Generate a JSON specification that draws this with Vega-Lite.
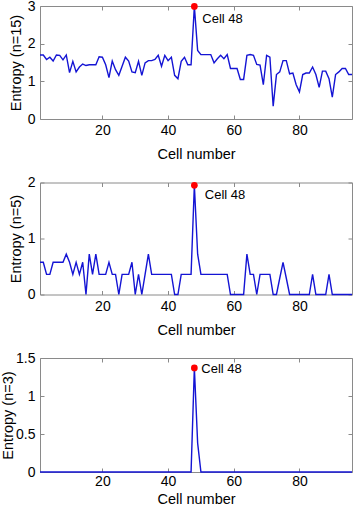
{
  "$schema": "https://vega.github.io/schema/vega-lite/v6.json",
  "padding": {"left": 0, "top": -2, "right": 0, "bottom": 0},
  "background": "white",
  "config": {
    "font": "Liberation Sans",
    "view": {"stroke": "#8a8a8a", "strokeWidth": 1},
    "axis": {
      "grid": false,
      "domain": false,
      "tickColor": "#8a8a8a",
      "tickSize": -4,
      "labelFontSize": 14,
      "labelColor": "#000000",
      "labelFlush": false,
      "format": ".1~f",
      "titleFontSize": 14.5,
      "titleFontWeight": "normal",
      "titleColor": "#000000"
    },
    "axisX": {"labelPadding": 8.8, "titlePadding": 10},
    "axisY": {"labelPadding": 9, "titlePadding": 3.5}
  },
  "datasets": {
    "p1": [
      {"cell": 1, "entropy": 1.70}, {"cell": 2, "entropy": 1.70}, {"cell": 3, "entropy": 1.58}, {"cell": 4, "entropy": 1.64},
      {"cell": 5, "entropy": 1.54}, {"cell": 6, "entropy": 1.70}, {"cell": 7, "entropy": 1.69}, {"cell": 8, "entropy": 1.57},
      {"cell": 9, "entropy": 1.70}, {"cell": 10, "entropy": 1.23}, {"cell": 11, "entropy": 1.53}, {"cell": 12, "entropy": 1.25},
      {"cell": 13, "entropy": 1.38}, {"cell": 14, "entropy": 1.46}, {"cell": 15, "entropy": 1.42}, {"cell": 16, "entropy": 1.44},
      {"cell": 17, "entropy": 1.44}, {"cell": 18, "entropy": 1.44}, {"cell": 19, "entropy": 1.65}, {"cell": 20, "entropy": 1.64},
      {"cell": 21, "entropy": 1.44}, {"cell": 22, "entropy": 1.10}, {"cell": 23, "entropy": 1.54}, {"cell": 24, "entropy": 1.31},
      {"cell": 25, "entropy": 1.16}, {"cell": 26, "entropy": 1.40}, {"cell": 27, "entropy": 1.64}, {"cell": 28, "entropy": 1.54},
      {"cell": 29, "entropy": 1.25}, {"cell": 30, "entropy": 1.23}, {"cell": 31, "entropy": 1.53}, {"cell": 32, "entropy": 1.16},
      {"cell": 33, "entropy": 1.49}, {"cell": 34, "entropy": 1.55}, {"cell": 35, "entropy": 1.55}, {"cell": 36, "entropy": 1.58},
      {"cell": 37, "entropy": 1.69}, {"cell": 38, "entropy": 1.40}, {"cell": 39, "entropy": 1.69}, {"cell": 40, "entropy": 1.55},
      {"cell": 41, "entropy": 1.64}, {"cell": 42, "entropy": 1.16}, {"cell": 43, "entropy": 1.07}, {"cell": 44, "entropy": 1.53},
      {"cell": 45, "entropy": 1.64}, {"cell": 46, "entropy": 1.44}, {"cell": 47, "entropy": 1.44}, {"cell": 48, "entropy": 2.99},
      {"cell": 49, "entropy": 1.82}, {"cell": 50, "entropy": 1.71}, {"cell": 51, "entropy": 1.71}, {"cell": 52, "entropy": 1.71},
      {"cell": 53, "entropy": 1.71}, {"cell": 54, "entropy": 1.49}, {"cell": 55, "entropy": 1.60}, {"cell": 56, "entropy": 1.69},
      {"cell": 57, "entropy": 1.60}, {"cell": 58, "entropy": 1.71}, {"cell": 59, "entropy": 1.34}, {"cell": 60, "entropy": 1.34},
      {"cell": 61, "entropy": 1.34}, {"cell": 62, "entropy": 1.05}, {"cell": 63, "entropy": 1.05}, {"cell": 64, "entropy": 1.69},
      {"cell": 65, "entropy": 1.71}, {"cell": 66, "entropy": 1.69}, {"cell": 67, "entropy": 1.45}, {"cell": 68, "entropy": 1.43},
      {"cell": 69, "entropy": 0.91}, {"cell": 70, "entropy": 1.69}, {"cell": 71, "entropy": 1.64}, {"cell": 72, "entropy": 0.34},
      {"cell": 73, "entropy": 1.18}, {"cell": 74, "entropy": 1.25}, {"cell": 75, "entropy": 1.55}, {"cell": 76, "entropy": 1.55},
      {"cell": 77, "entropy": 1.20}, {"cell": 78, "entropy": 1.22}, {"cell": 79, "entropy": 0.91}, {"cell": 80, "entropy": 0.72},
      {"cell": 81, "entropy": 1.18}, {"cell": 82, "entropy": 1.22}, {"cell": 83, "entropy": 1.22}, {"cell": 84, "entropy": 1.38},
      {"cell": 85, "entropy": 1.18}, {"cell": 86, "entropy": 0.84}, {"cell": 87, "entropy": 1.27}, {"cell": 88, "entropy": 1.27},
      {"cell": 89, "entropy": 1.07}, {"cell": 90, "entropy": 0.58}, {"cell": 91, "entropy": 1.18}, {"cell": 92, "entropy": 1.25},
      {"cell": 93, "entropy": 1.34}, {"cell": 94, "entropy": 1.34}, {"cell": 95, "entropy": 1.18}, {"cell": 96, "entropy": 1.18}
    ],
    "p2": [
      {"cell": 1, "entropy": 0.575}, {"cell": 2, "entropy": 0.575}, {"cell": 3, "entropy": 0.36}, {"cell": 4, "entropy": 0.36},
      {"cell": 5, "entropy": 0.575}, {"cell": 6, "entropy": 0.575}, {"cell": 7, "entropy": 0.575}, {"cell": 8, "entropy": 0.575},
      {"cell": 9, "entropy": 0.72}, {"cell": 10, "entropy": 0.575}, {"cell": 11, "entropy": 0.36}, {"cell": 12, "entropy": 0.575},
      {"cell": 13, "entropy": 0.36}, {"cell": 14, "entropy": 0.575}, {"cell": 15, "entropy": 0}, {"cell": 16, "entropy": 0.72},
      {"cell": 17, "entropy": 0.36}, {"cell": 18, "entropy": 0.72}, {"cell": 19, "entropy": 0.36}, {"cell": 20, "entropy": 0.36},
      {"cell": 21, "entropy": 0.36}, {"cell": 22, "entropy": 0.575}, {"cell": 23, "entropy": 0.36}, {"cell": 24, "entropy": 0.36},
      {"cell": 25, "entropy": 0}, {"cell": 26, "entropy": 0.36}, {"cell": 27, "entropy": 0.36}, {"cell": 28, "entropy": 0.36},
      {"cell": 29, "entropy": 0.575}, {"cell": 30, "entropy": 0}, {"cell": 31, "entropy": 0.36}, {"cell": 32, "entropy": 0},
      {"cell": 33, "entropy": 0.36}, {"cell": 34, "entropy": 0.72}, {"cell": 35, "entropy": 0.36}, {"cell": 36, "entropy": 0.36},
      {"cell": 37, "entropy": 0.36}, {"cell": 38, "entropy": 0.36}, {"cell": 39, "entropy": 0.36}, {"cell": 40, "entropy": 0.36},
      {"cell": 41, "entropy": 0.36}, {"cell": 42, "entropy": 0}, {"cell": 43, "entropy": 0}, {"cell": 44, "entropy": 0.36},
      {"cell": 45, "entropy": 0.36}, {"cell": 46, "entropy": 0.36}, {"cell": 47, "entropy": 0.36}, {"cell": 48, "entropy": 1.95},
      {"cell": 49, "entropy": 0.72}, {"cell": 50, "entropy": 0.36}, {"cell": 51, "entropy": 0.36}, {"cell": 52, "entropy": 0.36},
      {"cell": 53, "entropy": 0.36}, {"cell": 54, "entropy": 0.36}, {"cell": 55, "entropy": 0.36}, {"cell": 56, "entropy": 0.36},
      {"cell": 57, "entropy": 0.36}, {"cell": 58, "entropy": 0.36}, {"cell": 59, "entropy": 0}, {"cell": 60, "entropy": 0},
      {"cell": 61, "entropy": 0}, {"cell": 62, "entropy": 0}, {"cell": 63, "entropy": 0}, {"cell": 64, "entropy": 0.72},
      {"cell": 65, "entropy": 0.36}, {"cell": 66, "entropy": 0.36}, {"cell": 67, "entropy": 0}, {"cell": 68, "entropy": 0.36},
      {"cell": 69, "entropy": 0.36}, {"cell": 70, "entropy": 0.36}, {"cell": 71, "entropy": 0.36}, {"cell": 72, "entropy": 0},
      {"cell": 73, "entropy": 0}, {"cell": 74, "entropy": 0.29}, {"cell": 75, "entropy": 0.575}, {"cell": 76, "entropy": 0.29},
      {"cell": 77, "entropy": 0}, {"cell": 78, "entropy": 0}, {"cell": 79, "entropy": 0}, {"cell": 80, "entropy": 0},
      {"cell": 81, "entropy": 0}, {"cell": 82, "entropy": 0}, {"cell": 83, "entropy": 0}, {"cell": 84, "entropy": 0.36},
      {"cell": 85, "entropy": 0}, {"cell": 86, "entropy": 0}, {"cell": 87, "entropy": 0}, {"cell": 88, "entropy": 0},
      {"cell": 89, "entropy": 0.36}, {"cell": 90, "entropy": 0}, {"cell": 91, "entropy": 0}, {"cell": 92, "entropy": 0},
      {"cell": 93, "entropy": 0}, {"cell": 94, "entropy": 0}, {"cell": 95, "entropy": 0}, {"cell": 96, "entropy": 0}
    ],
    "p3": [
      {"cell": 1, "entropy": 0}, {"cell": 2, "entropy": 0}, {"cell": 3, "entropy": 0}, {"cell": 4, "entropy": 0},
      {"cell": 5, "entropy": 0}, {"cell": 6, "entropy": 0}, {"cell": 7, "entropy": 0}, {"cell": 8, "entropy": 0},
      {"cell": 9, "entropy": 0}, {"cell": 10, "entropy": 0}, {"cell": 11, "entropy": 0}, {"cell": 12, "entropy": 0},
      {"cell": 13, "entropy": 0}, {"cell": 14, "entropy": 0}, {"cell": 15, "entropy": 0}, {"cell": 16, "entropy": 0},
      {"cell": 17, "entropy": 0}, {"cell": 18, "entropy": 0}, {"cell": 19, "entropy": 0}, {"cell": 20, "entropy": 0},
      {"cell": 21, "entropy": 0}, {"cell": 22, "entropy": 0}, {"cell": 23, "entropy": 0}, {"cell": 24, "entropy": 0},
      {"cell": 25, "entropy": 0}, {"cell": 26, "entropy": 0}, {"cell": 27, "entropy": 0}, {"cell": 28, "entropy": 0},
      {"cell": 29, "entropy": 0}, {"cell": 30, "entropy": 0}, {"cell": 31, "entropy": 0}, {"cell": 32, "entropy": 0},
      {"cell": 33, "entropy": 0}, {"cell": 34, "entropy": 0}, {"cell": 35, "entropy": 0}, {"cell": 36, "entropy": 0},
      {"cell": 37, "entropy": 0}, {"cell": 38, "entropy": 0}, {"cell": 39, "entropy": 0}, {"cell": 40, "entropy": 0},
      {"cell": 41, "entropy": 0}, {"cell": 42, "entropy": 0}, {"cell": 43, "entropy": 0}, {"cell": 44, "entropy": 0},
      {"cell": 45, "entropy": 0}, {"cell": 46, "entropy": 0}, {"cell": 47, "entropy": 0}, {"cell": 48, "entropy": 1.37},
      {"cell": 49, "entropy": 0.38}, {"cell": 50, "entropy": 0}, {"cell": 51, "entropy": 0}, {"cell": 52, "entropy": 0},
      {"cell": 53, "entropy": 0}, {"cell": 54, "entropy": 0}, {"cell": 55, "entropy": 0}, {"cell": 56, "entropy": 0},
      {"cell": 57, "entropy": 0}, {"cell": 58, "entropy": 0}, {"cell": 59, "entropy": 0}, {"cell": 60, "entropy": 0},
      {"cell": 61, "entropy": 0}, {"cell": 62, "entropy": 0}, {"cell": 63, "entropy": 0}, {"cell": 64, "entropy": 0},
      {"cell": 65, "entropy": 0}, {"cell": 66, "entropy": 0}, {"cell": 67, "entropy": 0}, {"cell": 68, "entropy": 0},
      {"cell": 69, "entropy": 0}, {"cell": 70, "entropy": 0}, {"cell": 71, "entropy": 0}, {"cell": 72, "entropy": 0},
      {"cell": 73, "entropy": 0}, {"cell": 74, "entropy": 0}, {"cell": 75, "entropy": 0}, {"cell": 76, "entropy": 0},
      {"cell": 77, "entropy": 0}, {"cell": 78, "entropy": 0}, {"cell": 79, "entropy": 0}, {"cell": 80, "entropy": 0},
      {"cell": 81, "entropy": 0}, {"cell": 82, "entropy": 0}, {"cell": 83, "entropy": 0}, {"cell": 84, "entropy": 0},
      {"cell": 85, "entropy": 0}, {"cell": 86, "entropy": 0}, {"cell": 87, "entropy": 0}, {"cell": 88, "entropy": 0},
      {"cell": 89, "entropy": 0}, {"cell": 90, "entropy": 0}, {"cell": 91, "entropy": 0}, {"cell": 92, "entropy": 0},
      {"cell": 93, "entropy": 0}, {"cell": 94, "entropy": 0}, {"cell": 95, "entropy": 0}, {"cell": 96, "entropy": 0}
    ]
  },
  "spacing": 12.5,
  "vconcat": [
    {
      "width": 312, "height": 113,
      "data": {"name": "p1"},
      "resolve": {"axis": {"x": "independent", "y": "independent"}},
      "layer": [
        {
          "mark": {"type": "line", "color": "#1414d4", "strokeWidth": 1.4},
          "encoding": {
            "x": {"field": "cell", "type": "quantitative", "scale": {"domain": [1, 96], "nice": false}, "axis": {"values": [20, 40, 60, 80], "title": "Cell number"}},
            "y": {"field": "entropy", "type": "quantitative", "scale": {"domain": [0, 3], "nice": false}, "axis": {"values": [0, 1, 2, 3], "title": "Entropy (n=15)"}}
          }
        },
        {
          "mark": {"type": "line", "strokeOpacity": 0},
          "encoding": {
            "x": {"field": "cell", "type": "quantitative", "axis": {"orient": "top", "values": [20, 40, 60, 80], "labels": false, "title": null}},
            "y": {"field": "entropy", "type": "quantitative", "axis": {"orient": "right", "values": [0, 1, 2, 3], "labels": false, "title": null}}
          }
        },
        {
          "transform": [{"filter": "datum.cell == 48"}],
          "mark": {"type": "circle", "color": "#ff0000", "size": 45, "opacity": 1},
          "encoding": {
            "x": {"field": "cell", "type": "quantitative", "axis": null},
            "y": {"field": "entropy", "type": "quantitative", "axis": null}
          }
        },
        {
          "transform": [{"filter": "datum.cell == 48"}],
          "mark": {"type": "text", "align": "left", "baseline": "middle", "dx": 8, "dy": 13, "fontSize": 13, "color": "#000000"},
          "encoding": {
            "x": {"field": "cell", "type": "quantitative", "axis": null},
            "y": {"field": "entropy", "type": "quantitative", "axis": null},
            "text": {"value": "Cell 48"}
          }
        }
      ]
    },
    {
      "width": 312, "height": 112,
      "data": {"name": "p2"},
      "resolve": {"axis": {"x": "independent", "y": "independent"}},
      "layer": [
        {
          "mark": {"type": "line", "color": "#1414d4", "strokeWidth": 1.4},
          "encoding": {
            "x": {"field": "cell", "type": "quantitative", "scale": {"domain": [1, 96], "nice": false}, "axis": {"values": [20, 40, 60, 80], "title": "Cell number"}},
            "y": {"field": "entropy", "type": "quantitative", "scale": {"domain": [0, 2], "nice": false}, "axis": {"values": [0, 1, 2], "title": "Entropy (n=5)"}}
          }
        },
        {
          "mark": {"type": "line", "strokeOpacity": 0},
          "encoding": {
            "x": {"field": "cell", "type": "quantitative", "axis": {"orient": "top", "values": [20, 40, 60, 80], "labels": false, "title": null}},
            "y": {"field": "entropy", "type": "quantitative", "axis": {"orient": "right", "values": [0, 1, 2], "labels": false, "title": null}}
          }
        },
        {
          "transform": [{"filter": "datum.cell == 48"}],
          "mark": {"type": "circle", "color": "#ff0000", "size": 45, "opacity": 1},
          "encoding": {
            "x": {"field": "cell", "type": "quantitative", "axis": null},
            "y": {"field": "entropy", "type": "quantitative", "axis": null}
          }
        },
        {
          "transform": [{"filter": "datum.cell == 48"}],
          "mark": {"type": "text", "align": "left", "baseline": "middle", "dx": 10.5, "dy": 9.5, "fontSize": 13, "color": "#000000"},
          "encoding": {
            "x": {"field": "cell", "type": "quantitative", "axis": null},
            "y": {"field": "entropy", "type": "quantitative", "axis": null},
            "text": {"value": "Cell 48"}
          }
        }
      ]
    },
    {
      "width": 312, "height": 114,
      "data": {"name": "p3"},
      "resolve": {"axis": {"x": "independent", "y": "independent"}},
      "layer": [
        {
          "mark": {"type": "line", "color": "#1414d4", "strokeWidth": 1.4},
          "encoding": {
            "x": {"field": "cell", "type": "quantitative", "scale": {"domain": [1, 96], "nice": false}, "axis": {"values": [20, 40, 60, 80], "title": "Cell number", "labelPadding": 6, "titlePadding": 4.5}},
            "y": {"field": "entropy", "type": "quantitative", "scale": {"domain": [0, 1.5], "nice": false}, "axis": {"values": [0, 0.5, 1, 1.5], "title": "Entropy (n=3)", "titlePadding": 0}}
          }
        },
        {
          "mark": {"type": "line", "strokeOpacity": 0},
          "encoding": {
            "x": {"field": "cell", "type": "quantitative", "axis": {"orient": "top", "values": [20, 40, 60, 80], "labels": false, "title": null}},
            "y": {"field": "entropy", "type": "quantitative", "axis": {"orient": "right", "values": [0, 0.5, 1, 1.5], "labels": false, "title": null}}
          }
        },
        {
          "transform": [{"filter": "datum.cell == 48"}],
          "mark": {"type": "circle", "color": "#ff0000", "size": 45, "opacity": 1},
          "encoding": {
            "x": {"field": "cell", "type": "quantitative", "axis": null},
            "y": {"field": "entropy", "type": "quantitative", "axis": null}
          }
        },
        {
          "transform": [{"filter": "datum.cell == 48"}],
          "mark": {"type": "text", "align": "left", "baseline": "middle", "dx": 7, "dy": 1, "fontSize": 13, "color": "#000000"},
          "encoding": {
            "x": {"field": "cell", "type": "quantitative", "axis": null},
            "y": {"field": "entropy", "type": "quantitative", "axis": null},
            "text": {"value": "Cell 48"}
          }
        }
      ]
    }
  ]
}
